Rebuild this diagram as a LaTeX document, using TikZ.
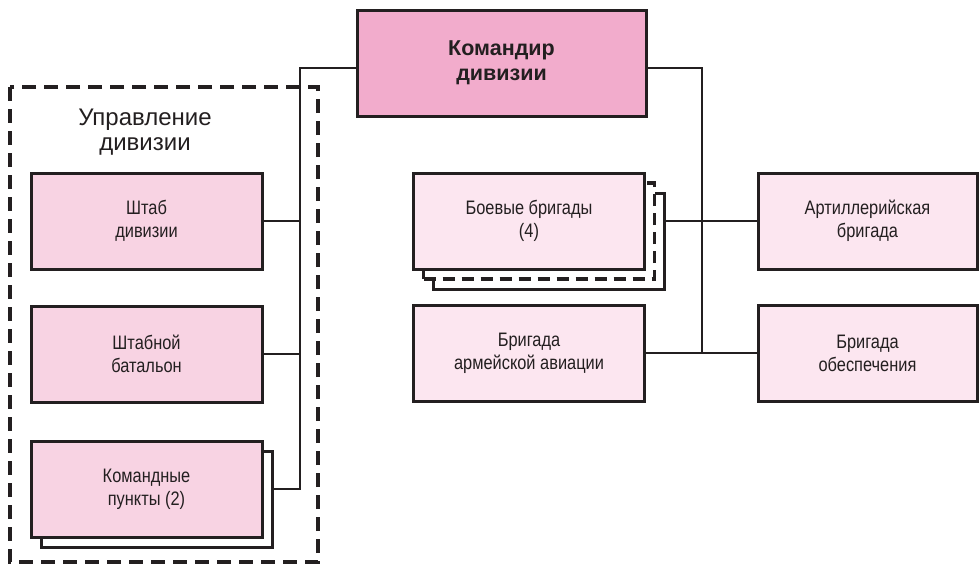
\documentclass[tikz,border=0pt]{standalone}
\usepackage{fontspec}
\setmainfont{Liberation Sans}
\newfontfamily\narrowfont[FakeStretch=0.84]{Liberation Sans}
\definecolor{ink}{HTML}{231F20}
\definecolor{cmdpink}{HTML}{F2ACCC}
\definecolor{hqpink}{HTML}{F8D3E3}
\definecolor{brpink}{HTML}{FCE6F0}
\tikzset{
  unit/.style={draw=ink, line width=3pt, rectangle, align=center, text=ink,
    minimum width=231pt, minimum height=96pt, inner sep=0pt,
    font=\narrowfont\fontsize{19.5}{23}\selectfont},
  hq/.style={unit, fill=hqpink},
  brig/.style={unit, fill=brpink},
  backbox/.style={unit, fill=white},
  link/.style={draw=ink, line width=2.6pt},
}
\begin{document}
\begin{tikzpicture}[x=1pt,y=-1pt]
\useasboundingbox (0,0) rectangle (979,565);
\draw [ink, line width=4pt, dash pattern=on 14pt off 8pt] (10,87) rectangle (318,562);
\node [text=ink, align=center, font=\fontsize{24}{25}\selectfont] (upr) at (145,132) {Управление\\дивизии};
\node [unit, fill=cmdpink, minimum width=289pt, minimum height=106pt,
  font=\bfseries\fontsize{21.5}{25}\selectfont] (cmd) at (501.5,63) {Командир\\дивизии};
\node [hq] (shtab) at (146.5,221) {Штаб\\дивизии};
\node [hq] (batal) at (146.5,354) {Штабной\\батальон};
\node [backbox] (kpb) at (156.5,499) {};
\node [hq] (kp) at (146.5,489) {Командные\\пункты (2)};
\node [backbox] (boevb) at (549,241) {};
\node [backbox, line width=3.4pt, dash pattern=on 12pt off 7pt] (boevm) at (539,231) {};
\node [brig] (boev) at (529,221) {Боевые бригады\\(4)};
\node [brig] (avia) at (529,353) {Бригада\\армейской авиации};
\node [brig, minimum width=219pt] (art) at (867.5,221) {Артиллерийская\\бригада};
\node [brig, minimum width=219pt] (obesp) at (867.5,353) {Бригада\\обеспечения};
\coordinate (lt) at (300,68);
\coordinate (lb) at (300,489);
\coordinate (rt) at (702,68);
\coordinate (rb) at (702,353);
\draw [link] ([yshift=-5pt]cmd.west) -- (lt) -- (lb) -- (kpb.east |- kp.east);
\draw [link] (shtab.east) -- (shtab.east -| lt);
\draw [link] (batal.east) -- (batal.east -| lt);
\draw [link] ([yshift=-5pt]cmd.east) -- (rt) -- (rb);
\draw [link] (boevb.east |- boev.east) -- (art.west);
\draw [link] (avia.east) -- (obesp.west);
\end{tikzpicture}
\end{document}
